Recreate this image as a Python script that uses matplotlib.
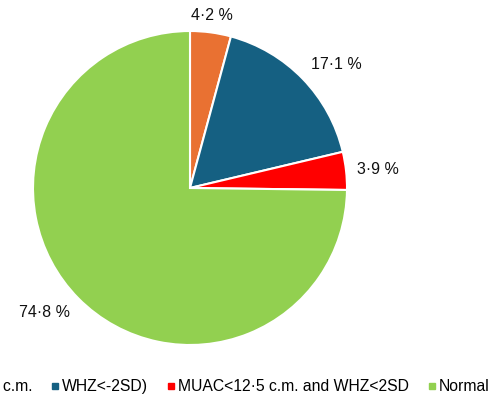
import numpy as np
import matplotlib.pyplot as plt
from matplotlib.lines import Line2D

plt.rcParams['font.family'] = ['Liberation Sans', 'DejaVu Sans']

categories = ["MUAC<12·5 c.m.", "WHZ<-2SD)", "MUAC<12·5 c.m. and WHZ<2SD", "Normal"]
values = [4.2, 17.1, 3.9, 74.8]
colors = ['#E97132', '#156082', '#FF0000', '#92D050']

fig = plt.figure(figsize=(4.91, 4.0), dpi=100)
ax = fig.add_axes([33 / 491, 55 / 400, 314 / 491, 314 / 400])

wedges, texts = ax.pie(
    values, colors=colors, startangle=90, counterclock=False,
    wedgeprops=dict(edgecolor='white', linewidth=1.5))
ax.set_xlim(-1, 1)
ax.set_ylim(-1, 1)
ax.set_aspect('equal')

# labels outside the wedges, like "outside end"
for w, v in zip(wedges, values):
    ang = np.deg2rad((w.theta1 + w.theta2) / 2)
    c, s = np.cos(ang), np.sin(ang)
    ha = 'center' if abs(c) < 0.3 else ('left' if c > 0 else 'right')
    va = 'center' if abs(s) < 0.3 else ('bottom' if s > 0 else 'top')
    ax.annotate(f"{v:.1f}".replace('.', '·') + " %", xy=(c, s),
                xytext=(8 * c, 7 * s), textcoords='offset points',
                ha=ha, va=va, fontsize=11.5, color='#111111',
                annotation_clip=False)

handles = [Line2D([], [], marker='s', linestyle='none', markersize=4.5,
                  markerfacecolor=c, markeredgecolor=c) for c in colors]
fig.legend(handles, categories, loc='center right', bbox_to_anchor=(1.0, 0.033),
           ncol=4, frameon=False, fontsize=11.3, handlelength=0.5,
           handletextpad=0.2, columnspacing=1.2, borderaxespad=0.0,
           borderpad=0.1)

fig.savefig('out.png', dpi=100)
